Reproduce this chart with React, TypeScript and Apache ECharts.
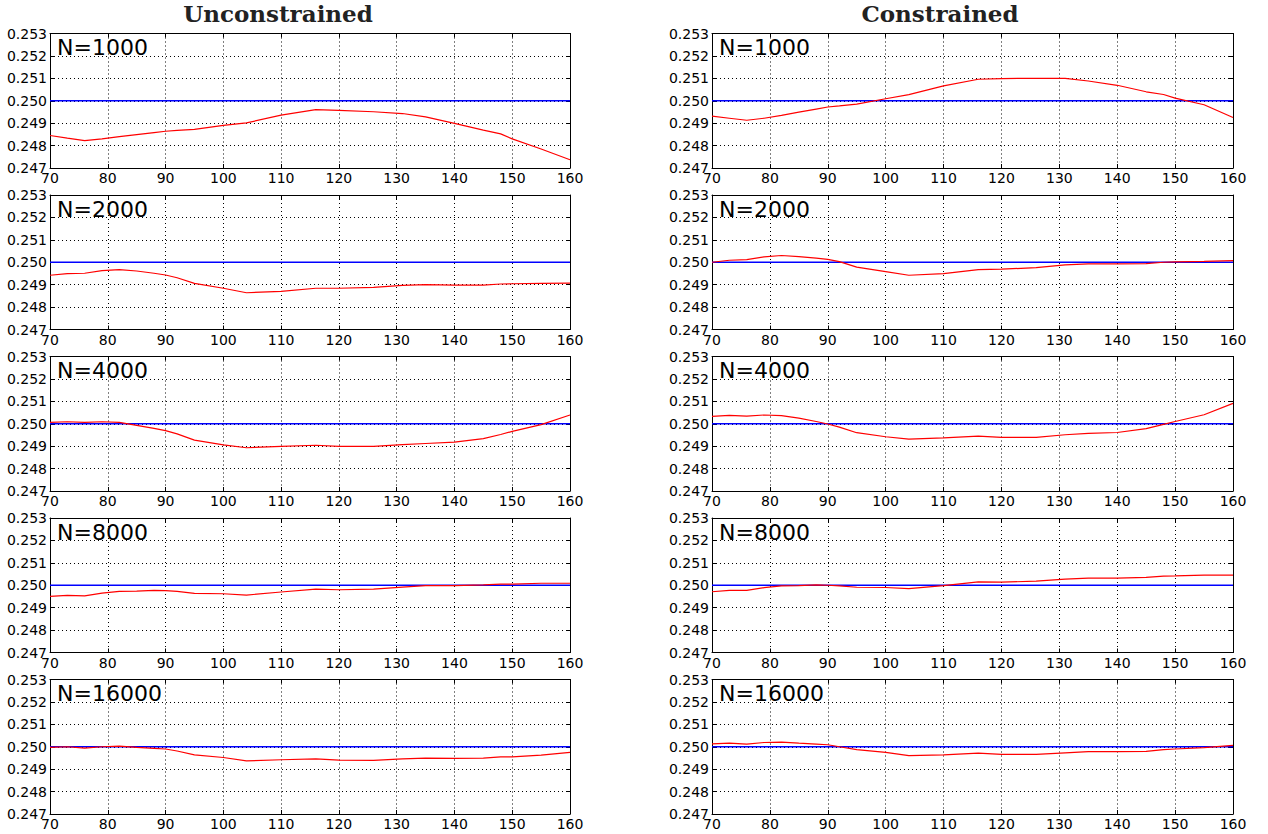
import React, { useEffect, useRef } from "react";
import * as echarts from "echarts";

// x positions (shared by all panels)
const xs = [70, 73, 76, 79, 82, 85, 88, 90, 92, 95, 100, 104, 110, 116, 120, 126, 131, 135, 140, 145, 148, 150, 155, 160];

const trueValue = 0.25;
const xTicksMin = 70;
const xTicksMax = 160;
const yMin = 0.247;
const yMax = 0.253;

const columnTitles = ["Unconstrained", "Constrained"];
const sampleSizes = ["N=1000", "N=2000", "N=4000", "N=8000", "N=16000"];

const uncon1000 = [0.24845, 0.24833, 0.24822, 0.2483, 0.2484, 0.24849, 0.24858, 0.24864, 0.24868, 0.24872, 0.2489, 0.24901, 0.24936, 0.2496, 0.24957, 0.24951, 0.24943, 0.24928, 0.24899, 0.24869, 0.24852, 0.2483, 0.24785, 0.24737];
const uncon2000 = [0.24942, 0.24949, 0.24951, 0.24963, 0.24967, 0.24961, 0.24951, 0.24943, 0.24931, 0.24906, 0.24884, 0.24864, 0.2487, 0.24884, 0.24884, 0.24888, 0.24897, 0.249, 0.24898, 0.24898, 0.24903, 0.24904, 0.24906, 0.24907];
const uncon4000 = [0.25006, 0.25009, 0.25006, 0.25009, 0.25006, 0.24993, 0.24979, 0.24969, 0.24955, 0.24927, 0.24906, 0.24893, 0.24899, 0.24904, 0.24899, 0.24899, 0.24907, 0.24912, 0.24918, 0.24934, 0.24952, 0.24966, 0.24996, 0.25039];
const uncon8000 = [0.2495, 0.24955, 0.24953, 0.24965, 0.24973, 0.24974, 0.24977, 0.24976, 0.24973, 0.24964, 0.24962, 0.24956, 0.2497, 0.24983, 0.2498, 0.24983, 0.24992, 0.24998, 0.24998, 0.25002, 0.25005, 0.25005, 0.25009, 0.25009];
const uncon16000 = [0.24997, 0.25, 0.24994, 0.25, 0.25003, 0.24997, 0.24993, 0.2499, 0.24981, 0.24964, 0.24952, 0.24937, 0.24942, 0.24946, 0.2494, 0.24939, 0.24946, 0.24949, 0.24948, 0.24949, 0.24955, 0.24955, 0.24963, 0.24975];

const con1000 = [0.24931, 0.24922, 0.24913, 0.24922, 0.24935, 0.24949, 0.24963, 0.24972, 0.24977, 0.24985, 0.25009, 0.25027, 0.25066, 0.25096, 0.25099, 0.251, 0.251, 0.25088, 0.25069, 0.2504, 0.25028, 0.25012, 0.24982, 0.24925];
const con2000 = [0.25, 0.25009, 0.25012, 0.25024, 0.2503, 0.25025, 0.25018, 0.25013, 0.25003, 0.24978, 0.24958, 0.24942, 0.24949, 0.24967, 0.24969, 0.24976, 0.24988, 0.24993, 0.24993, 0.24994, 0.25, 0.25002, 0.25004, 0.25007];
const con4000 = [0.25033, 0.25037, 0.25034, 0.25039, 0.25036, 0.25025, 0.2501, 0.24999, 0.24985, 0.2496, 0.24942, 0.24931, 0.24937, 0.24945, 0.24939, 0.24939, 0.24951, 0.24957, 0.24961, 0.24978, 0.24997, 0.2501, 0.2504, 0.25091];
const con8000 = [0.24971, 0.24977, 0.24977, 0.24989, 0.24997, 0.24998, 0.25002, 0.25, 0.24997, 0.24991, 0.2499, 0.24985, 0.24998, 0.25015, 0.25014, 0.25018, 0.25027, 0.25032, 0.25032, 0.25035, 0.25041, 0.25042, 0.25045, 0.25045];
const con16000 = [0.25013, 0.25016, 0.25012, 0.25019, 0.25021, 0.25016, 0.25012, 0.25009, 0.25, 0.24987, 0.24975, 0.2496, 0.24964, 0.24972, 0.24966, 0.24966, 0.24973, 0.24978, 0.24978, 0.24979, 0.24987, 0.2499, 0.24996, 0.25006];

const panels = [
  [uncon1000, con1000],
  [uncon2000, con2000],
  [uncon4000, con4000],
  [uncon8000, con8000],
  [uncon16000, con16000],
];

export default function App() {
  const ref = useRef<HTMLDivElement>(null);
  useEffect(() => {
    if (!ref.current) return;
    const chart = echarts.init(ref.current, undefined, { renderer: "svg" });
    const tops = [33.5, 195, 356.5, 518, 679.5];
    const lefts = [50, 712];
    const widths = [520, 521];
    const height = 134.5;
    const grid: any[] = [];
    const xAxis: any[] = [];
    const yAxis: any[] = [];
    const series: any[] = [];
    const graphic: any[] = [];
    const labelFont = { color: "#000", fontFamily: "DejaVu Sans", fontSize: 14 };
    let gi = 0;
    for (let r = 0; r < 5; r++) {
      for (let c = 0; c < 2; c++) {
        grid.push({ left: lefts[c], top: tops[r], width: widths[c], height });
        const baseX = {
          type: "value",
          gridIndex: gi,
          min: xTicksMin,
          max: xTicksMax,
          interval: 10,
          axisLine: { show: true, onZero: false, lineStyle: { color: "#000", width: 1 } },
          axisTick: { show: true, inside: true, length: 4, lineStyle: { color: "#000" } },
        };
        xAxis.push({
          ...baseX,
          position: "bottom",
          axisLabel: { ...labelFont, margin: 3 },
          splitLine: { show: true, lineStyle: { color: "#000", width: 1, type: [1, 3] } },
        });
        xAxis.push({
          ...baseX,
          position: "top",
          axisLabel: { show: false },
          splitLine: { show: false },
        });
        const baseY = {
          type: "value",
          gridIndex: gi,
          min: yMin,
          max: yMax,
          interval: 0.001,
          axisLine: { show: true, onZero: false, lineStyle: { color: "#000", width: 1 } },
          axisTick: { show: true, inside: true, length: 4, lineStyle: { color: "#000" } },
        };
        yAxis.push({
          ...baseY,
          position: "left",
          axisLabel: { ...labelFont, margin: 3, formatter: (v: number) => v.toFixed(3) },
          splitLine: { show: true, lineStyle: { color: "#000", width: 1, type: [1, 3] } },
        });
        yAxis.push({
          ...baseY,
          position: "right",
          axisLabel: { show: false },
          splitLine: { show: false },
        });
        series.push({
          type: "line",
          xAxisIndex: gi * 2,
          yAxisIndex: gi * 2,
          data: [
            [xs[0], trueValue],
            [xs[xs.length - 1], trueValue],
          ],
          symbol: "none",
          lineStyle: { color: "#0000ff", width: 1.5 },
          z: 2,
        });
        const vals = panels[r][c];
        series.push({
          type: "line",
          xAxisIndex: gi * 2,
          yAxisIndex: gi * 2,
          data: xs.map((x, i) => [x, vals[i]]),
          symbol: "none",
          lineStyle: { color: "#ff0000", width: 1.2 },
          z: 3,
        });
        graphic.push({
          type: "text",
          x: lefts[c] + 7,
          y: tops[r] + 3,
          z: 10,
          style: {
            text: sampleSizes[r],
            fill: "#000",
            fontFamily: "DejaVu Sans",
            fontSize: 22,
            align: "left",
            verticalAlign: "top",
          },
        });
        gi++;
      }
    }
    const titleCenters = [278, 940];
    for (let c = 0; c < 2; c++) {
      graphic.push({
        type: "text",
        x: titleCenters[c],
        y: 2,
        style: {
          text: columnTitles[c],
          fill: "#222",
          fontFamily: "DejaVu Serif",
          fontWeight: "bold",
          fontSize: 23,
          align: "center",
          verticalAlign: "top",
        },
      });
    }
    chart.setOption({
      animation: false,
      backgroundColor: "#fff",
      grid,
      xAxis,
      yAxis,
      series,
      graphic,
    });
    return () => chart.dispose();
  }, []);
  return (
    <div
      ref={ref}
      style={{ position: "fixed", left: 0, top: 0, width: 1268, height: 834, background: "#fff" }}
    />
  );
}
